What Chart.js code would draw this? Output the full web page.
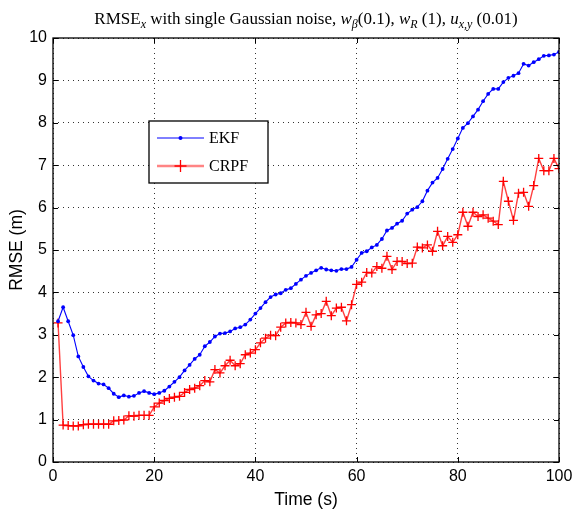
<!DOCTYPE html>
<html>
<head>
<meta charset="utf-8">
<script src="https://cdn.jsdelivr.net/npm/chart.js@4/dist/chart.umd.min.js"></script>
<style>
  html, body { margin: 0; padding: 0; background: #ffffff; }
  #wrap { width: 573px; height: 513px; }
</style>
</head>
<body>
<div id="wrap"><canvas id="c" width="573" height="513"></canvas></div>
<script>
// ---- data ----
const times = [1,2,3,4,5,6,7,8,9,10,11,12,13,14,15,16,17,18,19,20,
  21,22,23,24,25,26,27,28,29,30,31,32,33,34,35,36,37,38,39,40,
  41,42,43,44,45,46,47,48,49,50,51,52,53,54,55,56,57,58,59,60,
  61,62,63,64,65,66,67,68,69,70,71,72,73,74,75,76,77,78,79,80,
  81,82,83,84,85,86,87,88,89,90,91,92,93,94,95,96,97,98,99,100];

const ekf = [3.32,3.65,3.32,2.99,2.49,2.24,2.02,1.92,1.85,1.83,
  1.74,1.61,1.53,1.57,1.54,1.56,1.63,1.67,1.63,1.60,
  1.63,1.68,1.78,1.89,2.00,2.16,2.29,2.43,2.53,2.73,
  2.83,2.96,3.03,3.04,3.08,3.15,3.18,3.24,3.36,3.50,
  3.63,3.77,3.89,3.95,3.98,4.06,4.10,4.20,4.30,4.39,
  4.46,4.52,4.58,4.54,4.52,4.51,4.55,4.55,4.60,4.77,
  4.93,4.97,5.06,5.12,5.26,5.46,5.52,5.62,5.69,5.86,
  5.95,6.01,6.15,6.40,6.59,6.70,6.91,7.15,7.38,7.63,
  7.88,7.99,8.15,8.31,8.51,8.68,8.80,8.80,8.96,9.06,
  9.11,9.17,9.39,9.35,9.43,9.50,9.58,9.59,9.61,9.67];

const crpf = [3.28,0.87,0.86,0.85,0.85,0.88,0.89,0.89,0.89,0.89,
  0.89,0.97,0.98,0.99,1.09,1.08,1.10,1.10,1.10,1.30,
  1.39,1.45,1.50,1.53,1.55,1.64,1.71,1.74,1.80,1.92,
  1.89,2.18,2.10,2.27,2.40,2.27,2.32,2.53,2.57,2.65,
  2.81,2.92,2.99,2.98,3.18,3.28,3.29,3.28,3.24,3.53,
  3.20,3.47,3.50,3.79,3.45,3.63,3.65,3.33,3.71,4.19,
  4.24,4.47,4.46,4.61,4.57,4.85,4.54,4.73,4.73,4.68,
  4.69,5.07,5.05,5.12,4.97,5.44,5.10,5.32,5.18,5.36,
  5.89,5.56,5.89,5.79,5.83,5.75,5.68,5.60,6.62,6.15,
  5.70,6.34,6.36,6.03,6.52,7.16,6.87,6.87,7.16,6.92];

const seriesNames = ['EKF', 'CRPF'];
const xTicks = [0, 20, 40, 60, 80, 100];
const yTicks = [0, 1, 2, 3, 4, 5, 6, 7, 8, 9, 10];
const xLabel = 'Time (s)';
const yLabel = 'RMSE (m)';
// title pieces: [text, italic, subscript]
const titleParts = [
  ['RMSE', false, false], ['x', true, true],
  [' with single Gaussian noise, ', false, false],
  ['w', true, false], ['\u03B2', true, true], ['(0.1), ', false, false],
  ['w', true, false], ['R', true, true], [' (1), ', false, false],
  ['u', true, false], ['x,y', true, true], [' (0.01)', false, false]
];

// ---- drawing ----
const SERIF = '"Liberation Serif", "Times New Roman", serif';
const SANS = '"Liberation Sans", Arial, sans-serif';

const titlePlugin = {
  id: 'richTitle',
  afterDraw(chart) {
    const ctx = chart.ctx;
    const ca = chart.chartArea;
    const big = 17, small = 12;
    const fontFor = (p) => (p[1] ? 'italic ' : '') + (p[2] ? small : big) + 'px ' + SERIF;
    ctx.save();
    ctx.textBaseline = 'alphabetic';
    ctx.textAlign = 'left';
    let total = 0;
    const widths = titleParts.map(p => { ctx.font = fontFor(p); const w = ctx.measureText(p[0]).width; total += w; return w; });
    let x = (ca.left + ca.right) / 2 - total / 2;
    const base = 24;
    ctx.fillStyle = '#000';
    titleParts.forEach((p, i) => {
      ctx.font = fontFor(p);
      ctx.fillText(p[0], x, p[2] ? base + 4 : base);
      x += widths[i];
    });
    ctx.restore();
  }
};

const framePlugin = {
  id: 'frame',
  afterDatasetsDraw(chart) {
    const ctx = chart.ctx;
    const ca = chart.chartArea;
    const xs = chart.scales.x, ys = chart.scales.y;
    ctx.save();
    ctx.strokeStyle = '#000';
    ctx.lineWidth = 1.3;
    ctx.strokeRect(ca.left, ca.top, ca.right - ca.left, ca.bottom - ca.top);
    ctx.lineWidth = 1;
    const L = 5;
    ctx.beginPath();
    xs.ticks.forEach(t => {
      const px = Math.round(xs.getPixelForValue(t.value)) + 0.5;
      ctx.moveTo(px, ca.bottom); ctx.lineTo(px, ca.bottom - L);
      ctx.moveTo(px, ca.top); ctx.lineTo(px, ca.top + L);
    });
    ys.ticks.forEach(t => {
      const py = Math.round(ys.getPixelForValue(t.value)) + 0.5;
      ctx.moveTo(ca.left, py); ctx.lineTo(ca.left + L, py);
      ctx.moveTo(ca.right, py); ctx.lineTo(ca.right - L, py);
    });
    ctx.stroke();
    ctx.restore();
  },
  afterDraw(chart) {
    // legend box
    const ctx = chart.ctx;
    ctx.save();
    const bx = 149, by = 121, bw = 119, bh = 62;
    ctx.fillStyle = '#fff';
    ctx.fillRect(bx, by, bw, bh);
    ctx.strokeStyle = '#000';
    ctx.lineWidth = 1.3;
    ctx.strokeRect(bx, by, bw, bh);
    const rows = [138, 166];
    // EKF
    ctx.strokeStyle = '#0000ff'; ctx.lineWidth = 1;
    ctx.beginPath(); ctx.moveTo(157, rows[0]); ctx.lineTo(204, rows[0]); ctx.stroke();
    ctx.fillStyle = '#0000ff';
    ctx.beginPath(); ctx.arc(180.5, rows[0], 2, 0, Math.PI * 2); ctx.fill();
    // CRPF
    ctx.strokeStyle = 'rgba(255,80,80,0.7)'; ctx.lineWidth = 2.5;
    ctx.beginPath(); ctx.moveTo(157, rows[1]); ctx.lineTo(204, rows[1]); ctx.stroke();
    ctx.strokeStyle = '#ff0000'; ctx.lineWidth = 1.3;
    ctx.beginPath();
    ctx.moveTo(180.5, rows[1] - 6); ctx.lineTo(180.5, rows[1] + 6);
    ctx.moveTo(174.5, rows[1]); ctx.lineTo(186.5, rows[1]);
    ctx.stroke();
    ctx.fillStyle = '#000';
    ctx.font = '16px ' + SERIF;
    ctx.textBaseline = 'middle';
    ctx.textAlign = 'left';
    ctx.fillText(seriesNames[0], 209, rows[0] + 1);
    ctx.fillText(seriesNames[1], 209, rows[1] + 1);
    ctx.restore();
  }
};

const toPts = (arr) => arr.map((v, i) => ({ x: times[i], y: v }));

new Chart(document.getElementById('c'), {
  type: 'line',
  data: {
    datasets: [
      {
        label: seriesNames[0],
        data: toPts(ekf),
        borderColor: '#0000ff',
        backgroundColor: '#0000ff',
        borderWidth: 1.1,
        pointStyle: 'circle',
        pointRadius: 1.9,
        pointBorderWidth: 0,
        pointBackgroundColor: '#0000ff',
        tension: 0,
        fill: false
      },
      {
        label: seriesNames[1],
        data: toPts(crpf),
        borderColor: 'rgba(255,30,30,0.85)',
        backgroundColor: '#ff0000',
        borderWidth: 1.4,
        pointStyle: 'cross',
        pointRadius: 4.5,
        pointBorderWidth: 1.3,
        pointBorderColor: '#ff0000',
        tension: 0,
        fill: false
      }
    ]
  },
  options: {
    responsive: false,
    animation: false,
    devicePixelRatio: 1,
    layout: { padding: { top: 38, right: 14, bottom: 0, left: 0 } },
    plugins: {
      legend: { display: false },
      tooltip: { enabled: false },
      title: { display: false }
    },
    scales: {
      x: {
        type: 'linear',
        min: 0, max: 100,
        afterBuildTicks(scale) { scale.ticks = xTicks.map(v => ({ value: v })); },
        afterFit(scale) { scale.height = 51; scale.paddingLeft = 0; scale.paddingRight = 0; },
        ticks: { color: '#000', font: { family: SANS, size: 16 }, padding: 5, maxRotation: 0 },
        grid: { color: '#333', drawTicks: false, lineWidth: 1 },
        border: { display: false, dash: [1, 4] },
        title: { display: true, text: xLabel, color: '#000', font: { family: SANS, size: 17.5 }, padding: { top: 0, bottom: 2.5 } }
      },
      y: {
        type: 'linear',
        min: 0, max: 10,
        afterBuildTicks(scale) { scale.ticks = yTicks.map(v => ({ value: v })); },
        afterFit(scale) { scale.width = 53; scale.paddingTop = 0; scale.paddingBottom = 0; },
        ticks: { color: '#000', font: { family: SANS, size: 16 }, padding: 6 },
        grid: { color: '#333', drawTicks: false, lineWidth: 1 },
        border: { display: false, dash: [1, 4] },
        title: { display: true, text: yLabel, color: '#000', font: { family: SANS, size: 17.5 }, padding: { top: 6.5, bottom: 0 } }
      }
    }
  },
  plugins: [titlePlugin, framePlugin]
});
</script>
</body>
</html>
